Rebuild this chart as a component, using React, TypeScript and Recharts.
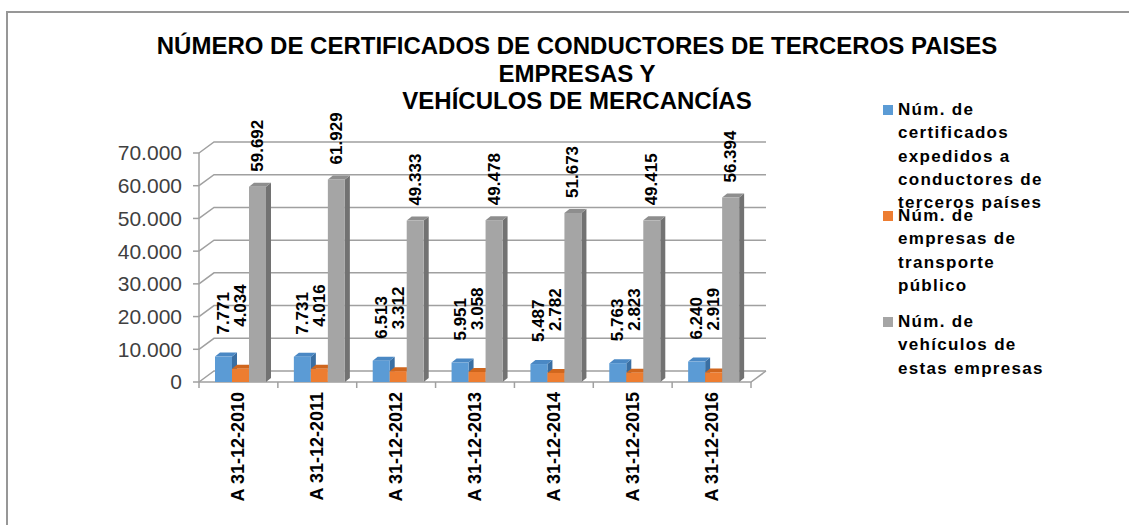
import React from 'react';
import { BarChart, Bar, XAxis, YAxis, CartesianGrid, LabelList } from 'recharts';

const categories = ['A 31-12-2010', 'A 31-12-2011', 'A 31-12-2012', 'A 31-12-2013', 'A 31-12-2014', 'A 31-12-2015', 'A 31-12-2016'];
const certificados = [7771, 7731, 6513, 5951, 5487, 5763, 6240];
const empresas = [4034, 4016, 3312, 3058, 2782, 2823, 2919];
const vehiculos = [59692, 61929, 49333, 49478, 51673, 49415, 56394];
const seriesNames = [
  'Núm. de certificados expedidos a conductores de terceros países',
  'Núm. de empresas de transporte público',
  'Núm. de vehículos de estas empresas',
];
const yTicks = [0, 10000, 20000, 30000, 40000, 50000, 60000, 70000];
const titleLines = ['NÚMERO DE CERTIFICADOS DE CONDUCTORES DE TERCEROS PAISES', 'EMPRESAS Y', 'VEHÍCULOS DE MERCANCÍAS'];

const data = categories.map((cat, i) => ({
  cat,
  a: certificados[i],
  b: empresas[i],
  c: vehiculos[i],
}));

const FONT = '"Liberation Sans", Arial, sans-serif';
const DX = 15; // depth of the back wall
const DY = 11;

// dots as thousands separator, like the Spanish Excel sheet
const fmt = (v: number) => String(v).replace(/\B(?=(\d{3})+(?!\d))/g, '.');

const colors = [
  { front: '#5B9BD5', top: '#4A88C4', side: '#3A6FA3' },
  { front: '#ED7D31', top: '#D0661D', side: '#B05417' },
  { front: '#A5A5A5', top: '#8E8E8E', side: '#727272' },
];
const labelLift = [22, 42, 15];

const makeShape = (c: { front: string; top: string; side: string }) => (props: any) => {
  const { x, y, width, height } = props;
  const sx = x + 2;
  const d = 5;
  const e = 4;
  return (
    <g>
      <path d={`M${sx + width},${y} L${sx + width + d},${y - e} L${sx + width + d},${y + height - e} L${sx + width},${y + height} Z`} fill={c.side} />
      <path d={`M${sx},${y} L${sx + d},${y - e} L${sx + width + d},${y - e} L${sx + width},${y} Z`} fill={c.top} />
      <rect x={sx} y={y} width={width} height={height} fill={c.front} />
    </g>
  );
};

const makeLabel = (lift: number) => (props: any) => {
  const { x, y, width, value } = props;
  const cx = x + 2 + width / 2;
  const cy = y - lift;
  return (
    <text
      transform={`translate(${cx},${cy}) rotate(-90)`}
      textAnchor="start"
      dominantBaseline="central"
      fontFamily={FONT}
      fontWeight="bold"
      fontSize={17}
      fill="#000"
    >
      {fmt(value)}
    </text>
  );
};

const gridLine = (props: any) => {
  const { x1, x2, y1, index } = props;
  const isFloor = Math.abs(y1 - 382) < 2;
  return (
    <g key={`g-${index}-${y1}`}>
      <path
        d={`M${x1},${y1} L${x1 + DX},${y1 - DY} L${x2 + DX},${y1 - DY}`}
        fill="none"
        stroke="#A0A0A0"
        strokeWidth={1.5}
      />
      {isFloor && (
        <path d={`M${x1},${y1} L${x2},${y1} L${x2 + DX},${y1 - DY}`} fill="none" stroke="#A0A0A0" strokeWidth={1.5} />
      )}
    </g>
  );
};

const XTick = (props: any) => {
  const { x, y, payload, index } = props;
  const bw = 552 / categories.length;
  return (
    <g>
      <line x1={x - bw / 2} y1={y} x2={x - bw / 2} y2={y + 6} stroke="#A0A0A0" strokeWidth={1.5} />
      {index === categories.length - 1 && (
        <line x1={x + bw / 2} y1={y} x2={x + bw / 2} y2={y + 6} stroke="#A0A0A0" strokeWidth={1.5} />
      )}
      <text
        transform={`translate(${x},${y + 10}) rotate(-90)`}
        textAnchor="end"
        dominantBaseline="central"
        fontFamily={FONT}
        fontWeight="bold"
        fontSize={18}
        fill="#000"
      >
        {payload.value}
      </text>
    </g>
  );
};

const App: React.FC = () => {
  return (
    <div style={{ position: 'absolute', left: 0, top: 0, width: 1129, height: 525, background: '#fff', overflow: 'hidden' }}>
      <div
        style={{
          position: 'absolute',
          left: 6,
          top: 11,
          width: 1200,
          height: 600,
          borderLeft: '2px solid #979797',
          borderTop: '2px solid #979797',
        }}
      />
      <div
        style={{
          position: 'absolute',
          left: 77,
          top: 32,
          width: 1000,
          textAlign: 'center',
          fontFamily: FONT,
          fontWeight: 'bold',
          fontSize: 24,
          lineHeight: '27.5px',
          color: '#000',
        }}
      >
        {titleLines.map((t) => (
          <div key={t}>{t}</div>
        ))}
      </div>

      <div style={{ position: 'absolute', left: 0, top: 0 }}>
        <BarChart
          width={1129}
          height={525}
          data={data}
          margin={{ top: 153, right: 378, bottom: 13, left: 0 }}
          barGap={0}
          barSize={17}
        >
          <CartesianGrid vertical={false} horizontal={gridLine} />
          <XAxis
            dataKey="cat"
            interval={0}
            axisLine={false}
            tickLine={false}
            tickSize={0}
            tickMargin={0}
            height={130}
            tick={<XTick />}
          />
          <YAxis
            width={199}
            domain={[0, 70000]}
            ticks={yTicks}
            tickFormatter={fmt}
            axisLine={{ stroke: '#A0A0A0', strokeWidth: 1.5 }}
            tickLine={{ stroke: '#A0A0A0', strokeWidth: 1.5 }}
            tickSize={6}
            tickMargin={11}
            tick={{ fontFamily: FONT, fontSize: 21, fill: '#404040' }}
          />
          {(['a', 'b', 'c'] as const).map((k, i) => (
            <Bar key={k} dataKey={k} name={seriesNames[i]} fill={colors[i].front} shape={makeShape(colors[i])} isAnimationActive={false}>
              <LabelList dataKey={k} content={makeLabel(labelLift[i])} />
            </Bar>
          ))}
        </BarChart>
      </div>

      <div style={{ position: 'absolute', left: 883, top: 98 }}>
        {seriesNames.map((name, i) => (
          <div key={name} style={{ position: 'relative', height: 106 }}>
            <div style={{ position: 'absolute', left: 0, top: 7, width: 10, height: 10, background: colors[i].front }} />
            <div
              style={{
                position: 'absolute',
                left: 15,
                top: 0,
                width: 160,
                fontFamily: FONT,
                fontWeight: 'bold',
                fontSize: 17,
                letterSpacing: 1.3,
                lineHeight: '23.3px',
                color: '#000',
              }}
            >
              {name}
            </div>
          </div>
        ))}
      </div>
    </div>
  );
};

export default App;
